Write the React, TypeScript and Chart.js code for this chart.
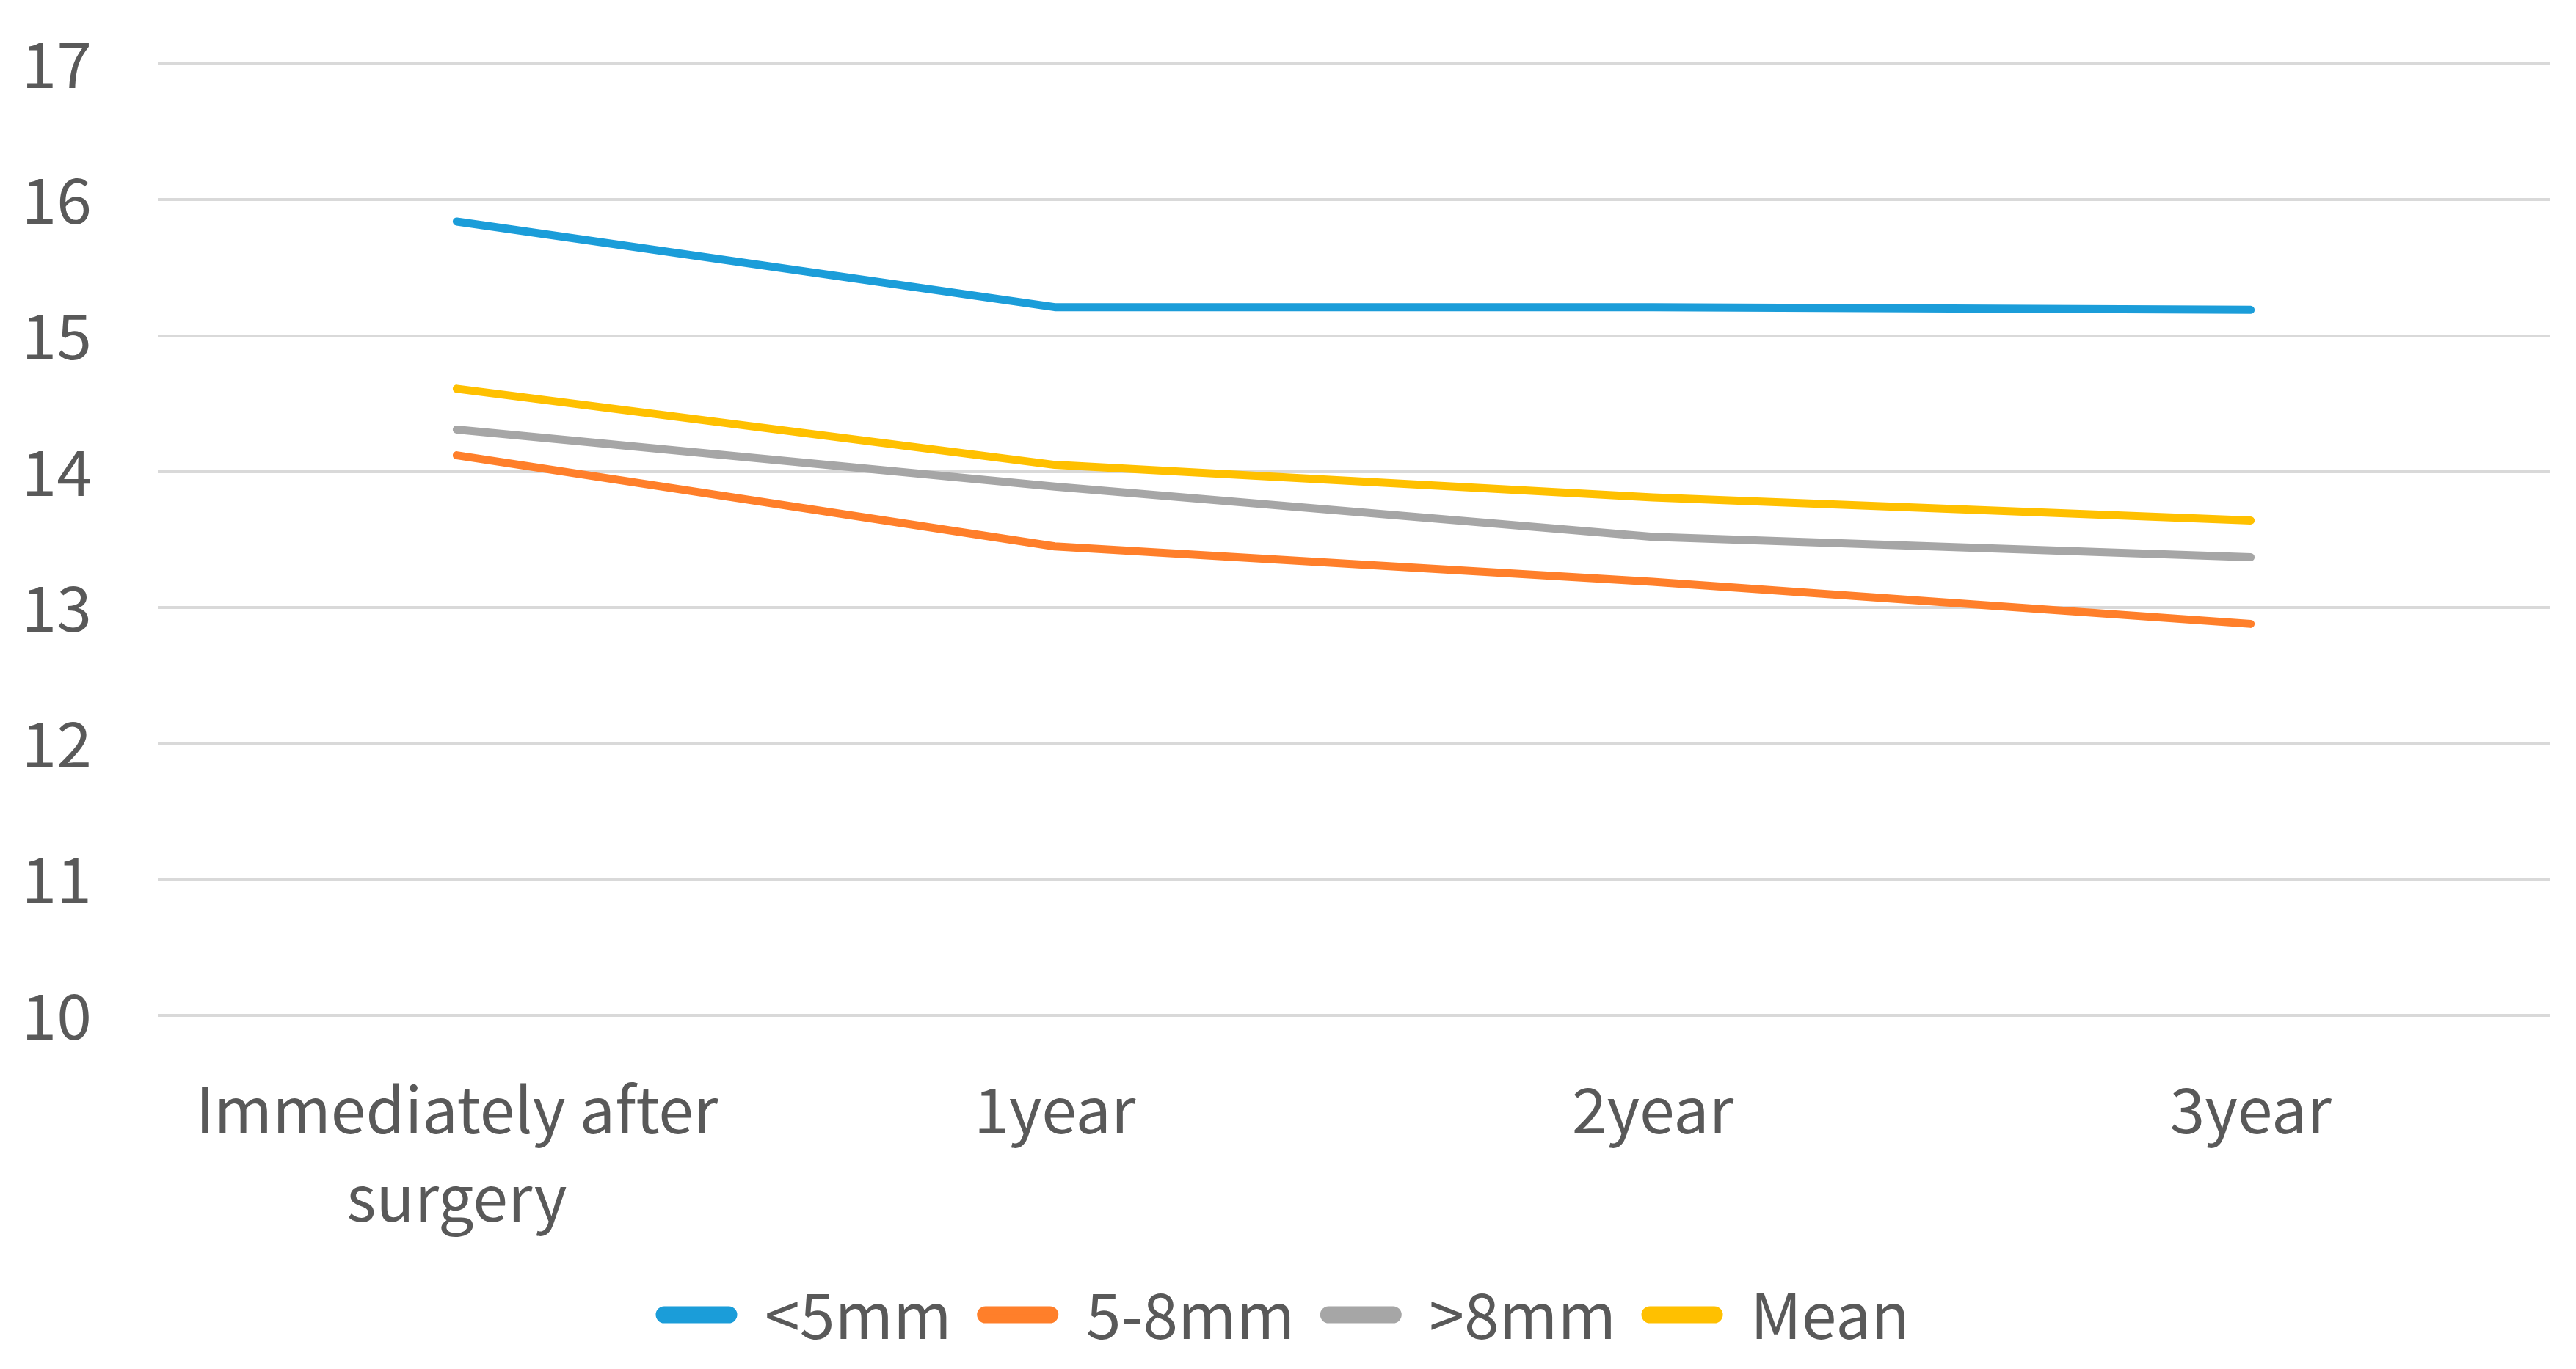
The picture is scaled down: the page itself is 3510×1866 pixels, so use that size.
import React, { useEffect, useRef } from 'react';
import { Chart, registerables } from 'chart.js';

Chart.register(...registerables);

// ---- data ----
const categories: (string | string[])[] = [['Immediately after', 'surgery'], '1year', '2year', '3year'];
const seriesNames = ['<5mm', '5-8mm', '>8mm', 'Mean'];
const under5mm = [15.84, 15.21, 15.21, 15.19];
const between5and8mm = [14.12, 13.45, 13.19, 12.88];
const over8mm = [14.31, 13.89, 13.52, 13.37];
const meanValues = [14.61, 14.05, 13.81, 13.64];
const yMin = 10;
const yMax = 17;
const yStep = 1;

// ---- styles ----
const seriesColors = ['#1b9dd9', '#ff7f2a', '#a6a6a6', '#ffc000'];
const FONT = '"Noto Sans CJK KR", "Noto Sans", sans-serif';
const TEXT = '#595959';
const FS = 86;

export default function App() {
  const ref = useRef<HTMLCanvasElement | null>(null);

  useEffect(() => {
    document.body.style.margin = '0';
    const canvas = ref.current;
    if (!canvas) return;
    const values = [under5mm, between5and8mm, over8mm, meanValues];
    const chart = new Chart(canvas, {
      type: 'line',
      data: {
        labels: categories,
        datasets: seriesNames.map((name, i) => ({
          label: name,
          data: values[i],
          borderColor: seriesColors[i],
          backgroundColor: seriesColors[i],
          borderWidth: 11,
          pointRadius: 0,
          pointHoverRadius: 0,
          tension: 0,
          borderCapStyle: 'round' as const,
          borderJoinStyle: 'round' as const,
          fill: false,
        })),
      },
      options: {
        responsive: false,
        devicePixelRatio: 1,
        animation: false,
        layout: { padding: { left: 27, right: 36, top: 87, bottom: 21 } },
        plugins: {
          tooltip: { enabled: false },
          title: { display: false },
          legend: {
            display: true,
            position: 'bottom',
            labels: {
              boxWidth: 100,
              boxHeight: 12,
              useBorderRadius: true,
              borderRadius: 6,
              padding: 40,
              color: TEXT,
              font: { family: FONT, size: FS },
            },
          },
        },
        scales: {
          x: {
            type: 'category',
            offset: true,
            grid: { display: false },
            border: { display: false },
            afterFit: (s: any) => {
              s.paddingLeft = 0;
              s.paddingRight = 0;
              s.height = 325;
            },
            ticks: {
              color: TEXT,
              font: { family: FONT, size: FS, lineHeight: 1.4 },
              padding: 60,
              maxRotation: 0,
              autoSkip: false,
            },
          },
          y: {
            type: 'linear',
            min: yMin,
            max: yMax,
            grid: { color: '#d9d9d9', lineWidth: 4, drawTicks: false },
            border: { display: false },
            afterFit: (s: any) => {
              s.paddingTop = 0;
              s.paddingBottom = 0;
              s.width = 188;
            },
            ticks: {
              stepSize: yStep,
              color: TEXT,
              font: { family: FONT, size: FS },
              padding: 90,
            },
          },
        },
      },
    });
    return () => chart.destroy();
  }, []);

  return (
    <div style={{ width: 3510, height: 1866 }}>
      <canvas ref={ref} width={3510} height={1866} style={{ display: 'block' }} />
    </div>
  );
}
